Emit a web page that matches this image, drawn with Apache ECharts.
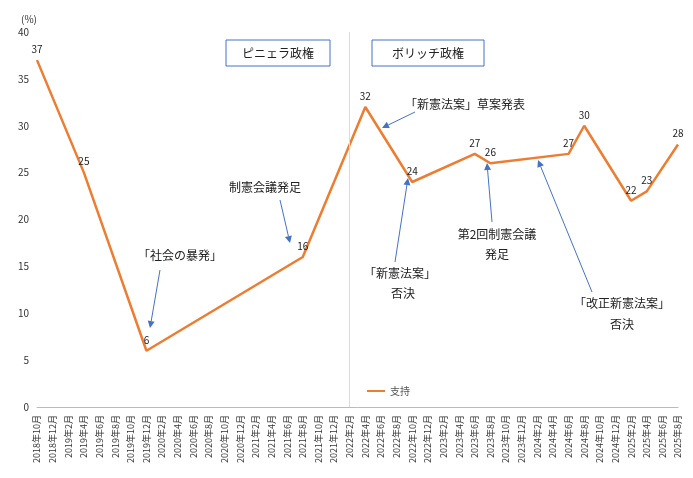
<!DOCTYPE html>
<html><head><meta charset="utf-8">
<script src="https://cdn.jsdelivr.net/npm/echarts@6/dist/echarts.min.js"></script>
<style>html,body{margin:0;padding:0;background:#fff}#c{width:693px;height:478px}</style>
</head><body><div id="c"></div>
<script>
// カテゴリ（2か月ごと）
let categories = [];
categories.push("2018年10月", "2018年12月");
for (let y = 2019; y <= 2024; y++) for (let m = 2; m <= 12; m += 2) categories.push(y + "年" + m + "月");
for (let m = 2; m <= 8; m += 2) categories.push("2025年" + m + "月");

// 調査のある月と支持率
let surveyMonths = ["2018年10月", "2019年4月", "2019年12月", "2021年8月", "2022年4月", "2022年10月",
	"2023年6月", "2023年8月", "2024年6月", "2024年8月", "2025年2月", "2025年4月", "2025年8月"];
let support = [37, 25, 6, 16, 32, 24, 27, 26, 27, 30, 22, 23, 28];

let seriesData = categories.map(c => {
	let i = surveyMonths.indexOf(c);
	return i >= 0 ? support[i] : null;
});

let blue = "#4472C4";
function arrow(x1, y1, x2, y2) {
	let a = Math.atan2(y2 - y1, x2 - x1), L = 7, w = 3.5;
	let bx = x2 - L * Math.cos(a), by = y2 - L * Math.sin(a);
	return [
		{ type: "line", shape: { x1: x1, y1: y1, x2: bx, y2: by }, style: { stroke: blue, lineWidth: 1 } },
		{ type: "polygon", shape: { points: [[x2, y2], [bx + w * Math.sin(a), by - w * Math.cos(a)], [bx - w * Math.sin(a), by + w * Math.cos(a)]] }, style: { fill: blue } },
	];
}
function label(x, y, t) {
	return { type: "text", x: x, y: y, style: { text: t, fill: "#222", font: "12px 'Noto Sans CJK JP'", align: "center", verticalAlign: "middle" } };
}
function box(x, y, w, h, t) {
	return [
		{ type: "rect", shape: { x: x, y: y, width: w, height: h }, style: { fill: "#fff", stroke: blue, lineWidth: 1 } },
		label(x + w / 2, y + h / 2, t),
	];
}

let graphics = [].concat(
	box(226, 40, 104, 26, "ピニェラ政権"),
	box(372, 40, 112, 26, "ボリッチ政権"),
	[label(180, 255, "「社会の暴発」")], arrow(160, 270, 150, 328),
	[label(265, 187, "制憲会議発足")], arrow(280, 200, 290, 243),
	[label(465, 104, "「新憲法案」草案発表")], arrow(415, 112, 382, 128),
	[label(400, 273, "「新憲法案」"), label(403, 293, "否決")], arrow(395, 262, 408, 178),
	[label(497, 234, "第2回制憲会議"), label(497, 254, "発足")], arrow(492, 222, 487, 163),
	[label(622, 303, "「改正新憲法案」"), label(622, 324, "否決")], arrow(592, 292, 538, 160)
);

let chart = echarts.init(document.getElementById("c"), null, { renderer: "canvas" });
chart.setOption({
	animation: false,
	textStyle: { fontFamily: "'Noto Sans CJK JP', sans-serif" },
	grid: { left: 37, right: 15, top: 32, bottom: 71 },
	legend: { data: ["支持"], left: 362, top: 381, itemWidth: 18, itemHeight: 2, icon: "rect", textStyle: { fontSize: 10, color: "#555" } },
	xAxis: {
		type: "category", data: categories, boundaryGap: false,
		axisLabel: { rotate: 90, fontSize: 9, color: "#333", interval: 0 },
		axisTick: { show: false },
		axisLine: { lineStyle: { color: "#bbb" } },
	},
	yAxis: {
		type: "value", min: 0, max: 40, interval: 5,
		name: "(%)", nameGap: 8, nameTextStyle: { fontSize: 10, color: "#333", align: "right" },
		axisLabel: { fontSize: 10, color: "#333" },
		splitLine: { show: false },
		axisLine: { show: false },
	},
	series: [{
		name: "支持", type: "line", data: seriesData, connectNulls: true,
		showSymbol: true, symbol: "circle", symbolSize: 0,
		lineStyle: { color: "#ED7D31", width: 2.5 }, itemStyle: { color: "#ED7D31" },
		label: { show: true, position: "top", fontSize: 10, color: "#222", distance: 6 },
		markLine: {
			silent: true, symbol: "none", label: { show: false },
			lineStyle: { color: "#d0dcef", type: "solid", width: 1 },
			data: [{ xAxis: "2022年2月" }],
		},
	}],
	graphic: graphics,
});
</script></body></html>
